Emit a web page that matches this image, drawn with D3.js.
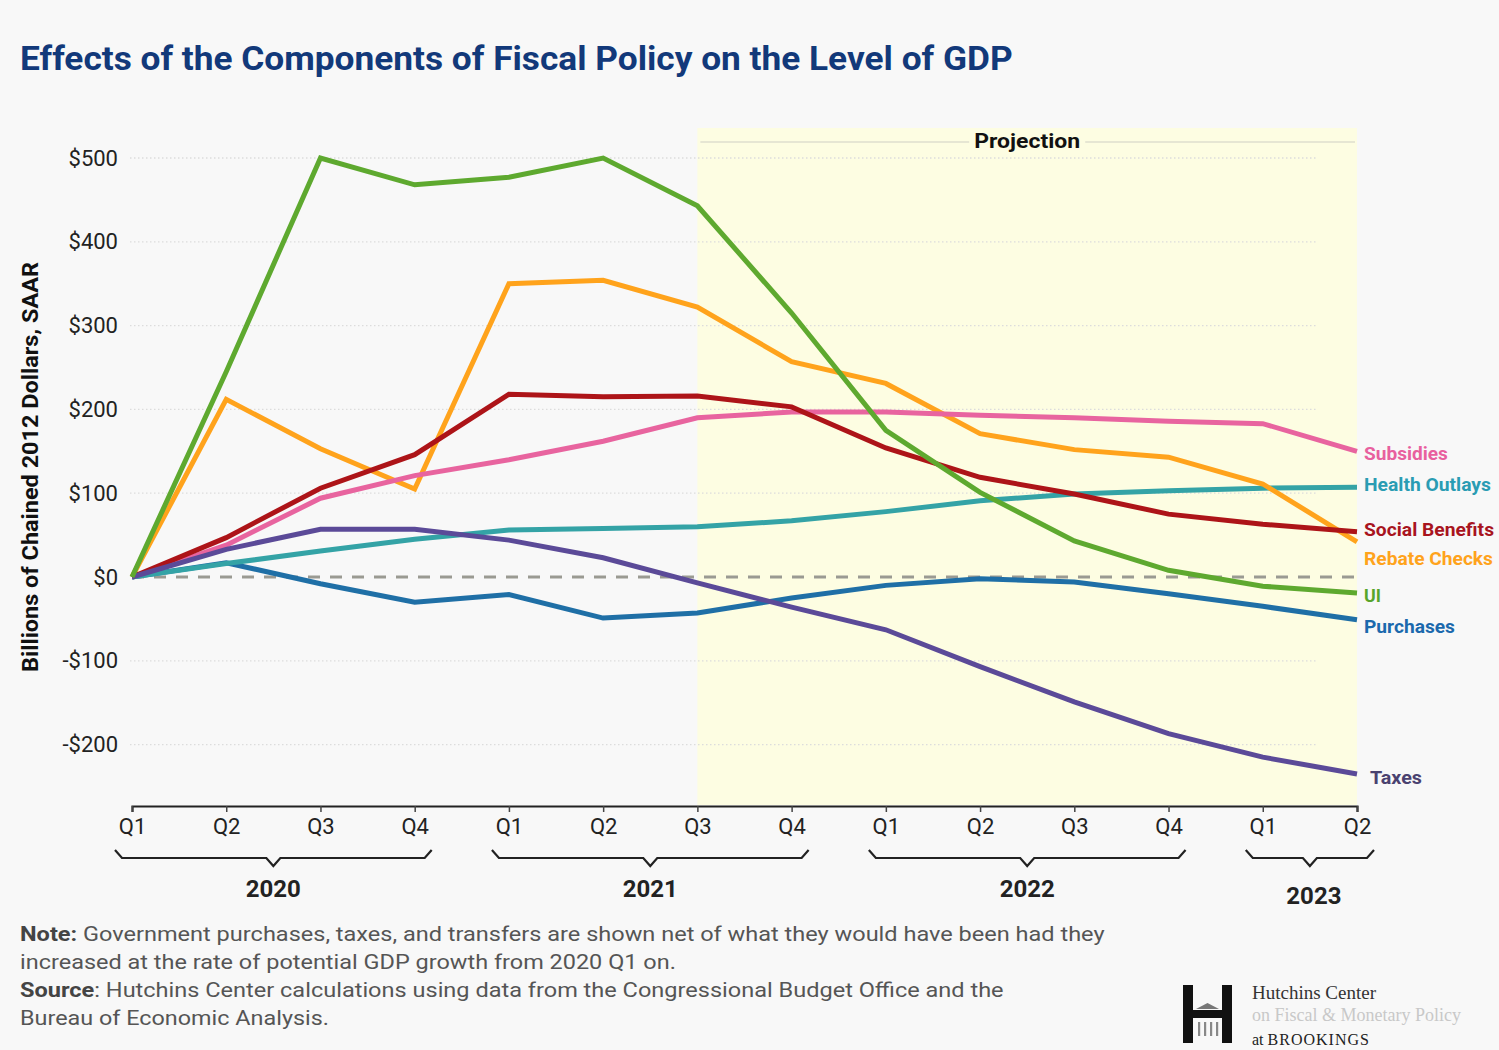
<!DOCTYPE html>
<html>
<head>
<meta charset="utf-8">
<script src="https://cdn.jsdelivr.net/npm/d3@7"></script>
<style>
  html, body { margin: 0; padding: 0; background: #f8f8f8; }
  svg { display: block; font-family: Roboto, "Noto Sans", sans-serif; }
</style>
</head>
<body>
<svg id="chart" width="1499" height="1050"></svg>
<script>
// Quarter ticks, 2020 Q1 through 2023 Q2
const quarterLabels = ["Q1","Q2","Q3","Q4","Q1","Q2","Q3","Q4","Q1","Q2","Q3","Q4","Q1","Q2"];
const yearLabels = ["2020", "2021", "2022", "2023"];
const yearFirstQuarter = [0, 4, 8, 12];
const yearLastQuarter = [3, 7, 11, 13];
const projectionFrom = 6; // 2021 Q3 onward is projected

const yTicks = [-200, -100, 0, 100, 200, 300, 400, 500];

// Effect on the level of GDP, billions of chained 2012 dollars (SAAR)
const uiValues        = [0, 245, 500, 468, 477, 500, 443, 315, 175, 101, 43, 8, -11, -19];
const rebateValues    = [0, 212, 153, 105, 350, 354, 322, 257, 231, 171, 152, 143, 111, 42];
const socialValues    = [0, 47, 106, 146, 218, 215, 216, 203, 154, 119, 99, 75, 63, 54];
const subsidyValues   = [0, 38, 94, 121, 140, 162, 190, 197, 197, 193, 190, 186, 183, 150];
const healthValues    = [0, 16, 31, 45, 56, 58, 60, 67, 78, 91, 99, 103, 106, 107];
const taxValues       = [0, 33, 57, 57, 44, 23, -7, -36, -63, -107, -149, -187, -215, -235];
const purchaseValues  = [0, 17, -8, -30, -21, -49, -43, -25, -10, -2, -6, -20, -35, -51];

const seriesNames = ["Purchases", "Health Outlays", "Rebate Checks", "Subsidies", "Social Benefits", "Taxes", "UI"];
const seriesValues = [purchaseValues, healthValues, rebateValues, subsidyValues, socialValues, taxValues, uiValues];

// Styling for each series: line colour, label colour, label nudge in px
const style = {
  "UI":              { line: "#5ea92f", text: "#58a52b", dy: 2,   dx: 7 },
  "Rebate Checks":   { line: "#ffa31c", text: "#ffa31c", dy: 16,  dx: 7 },
  "Social Benefits": { line: "#ad1418", text: "#a8141e", dy: -3,  dx: 7 },
  "Subsidies":       { line: "#e8649f", text: "#e8609e", dy: 2,   dx: 7 },
  "Health Outlays":  { line: "#34a3a6", text: "#2a9cb3", dy: -3,  dx: 7 },
  "Taxes":           { line: "#5b4a98", text: "#4a4270", dy: 3,   dx: 13 },
  "Purchases":       { line: "#1f6fa6", text: "#1b69ad", dy: 6,   dx: 7 }
};
const labelWidths = { "Subsidies": 84, "Health Outlays": 127, "Social Benefits": 130,
  "Rebate Checks": 129, "UI": 17, "Purchases": 91, "Taxes": 52 };

const svg = d3.select("#chart");

const x = d3.scaleLinear().domain([0, quarterLabels.length - 1]).range([132, 1357]);
const y = d3.scaleLinear().domain([-200, 500]).range([744.6, 158]);

// Horizontally squeeze a text element so that it spans a given width
function fitWidth(sel, width, anchorX, baseY, anchor) {
  const node = sel.node();
  const w = node.getComputedTextLength();
  const k = width / w;
  let tx = anchorX;
  sel.attr("x", 0).attr("y", 0);
  if (anchor === "middle") sel.attr("text-anchor", "middle");
  if (anchor === "end") sel.attr("text-anchor", "end");
  sel.attr("transform", `translate(${tx},${baseY}) scale(${k},1)`);
}

// Title
const title = svg.append("text")
  .attr("fill", "#12397a").attr("font-weight", 700).attr("font-size", 34)
  .text("Effects of the Components of Fiscal Policy on the Level of GDP");
fitWidth(title, 993, 20, 70);

// Projection shading
svg.append("rect")
  .attr("x", x(projectionFrom)).attr("y", 128)
  .attr("width", x(quarterLabels.length - 1) - x(projectionFrom))
  .attr("height", 805 - 128)
  .attr("fill", "#fdfde2");

// Projection label with rule
const projCenter = (x(projectionFrom) + x(quarterLabels.length - 1)) / 2;
svg.append("line").attr("x1", x(projectionFrom) + 3).attr("x2", projCenter - 58)
  .attr("y1", 142).attr("y2", 142).attr("stroke", "#cfcfc4").attr("stroke-width", 1.2);
svg.append("line").attr("x1", projCenter + 58).attr("x2", x(quarterLabels.length - 1) - 2)
  .attr("y1", 142).attr("y2", 142).attr("stroke", "#cfcfc4").attr("stroke-width", 1.2);
const proj = svg.append("text").attr("font-weight", 700).attr("font-size", 21).attr("fill", "#111")
  .text("Projection");
fitWidth(proj, 106, projCenter, 148, "middle");

// Gridlines
svg.append("g").selectAll("line")
  .data(yTicks.filter(d => d !== 0))
  .join("line")
  .attr("x1", 130).attr("x2", x(quarterLabels.length - 1) - 40)
  .attr("y1", d => y(d)).attr("y2", d => y(d))
  .attr("stroke", "#dcdcdc").attr("stroke-width", 1.3)
  .attr("stroke-dasharray", "1.5,2.5");

// Zero line
svg.append("line")
  .attr("x1", x(0)).attr("x2", x(quarterLabels.length - 1))
  .attr("y1", y(0)).attr("y2", y(0))
  .attr("stroke", "#9a9a92").attr("stroke-width", 3)
  .attr("stroke-dasharray", "12,10");

// Y axis labels
const yAxis = svg.append("g").attr("transform", "translate(118,0)")
  .call(d3.axisLeft(y).tickValues(yTicks).tickSize(0).tickPadding(0)
    .tickFormat(d => (d < 0 ? "-$" : "$") + Math.abs(d)));
yAxis.select(".domain").remove();
yAxis.selectAll("text").attr("font-size", 22).attr("fill", "#222")
  .attr("font-family", "Roboto, sans-serif");

// Y axis title
const yTitle = svg.append("text").attr("font-weight", 700).attr("font-size", 22).attr("fill", "#111")
  .text("Billions of Chained 2012 Dollars, SAAR");
{
  const w = yTitle.node().getComputedTextLength();
  const k = 410 / w;
  yTitle.attr("text-anchor", "middle")
    .attr("transform", `translate(38,467) rotate(-90) scale(${k},1)`);
}

// Lines
const line = d3.line().x((d, i) => x(i)).y(d => y(d));
svg.append("g").selectAll("path")
  .data(seriesNames)
  .join("path")
  .attr("d", (name, i) => line(seriesValues[i]))
  .attr("fill", "none")
  .attr("stroke", name => style[name].line)
  .attr("stroke-width", 5)
  .attr("stroke-linejoin", "miter")
  .attr("stroke-linecap", "butt");

// End labels
seriesNames.forEach((name, i) => {
  const vals = seriesValues[i];
  const last = vals[vals.length - 1];
  const t = svg.append("text").attr("font-weight", 700).attr("font-size", 19)
    .attr("fill", style[name].text).text(name);
  fitWidth(t, labelWidths[name], x(vals.length - 1) + style[name].dx, y(last) + style[name].dy + 7);
});

// X axis
const xAxis = svg.append("g").attr("transform", "translate(0,806)")
  .call(d3.axisBottom(x).tickValues(d3.range(quarterLabels.length))
    .tickSize(6).tickPadding(6).tickFormat(i => quarterLabels[i]));
xAxis.select(".domain").attr("stroke", "#222").attr("stroke-width", 2.2);
xAxis.selectAll(".tick line").attr("stroke", "#444").attr("stroke-width", 1.5);
xAxis.selectAll("text").attr("font-size", 22).attr("fill", "#222")
  .attr("font-family", "Roboto, sans-serif");

// Year braces and labels
yearLabels.forEach((label, i) => {
  const x0 = x(yearFirstQuarter[i]) - 17;
  const x1 = x(yearLastQuarter[i]) + 17;
  const cx = (x0 + x1) / 2;
  const top = 850, mid = 858, tip = 866;
  svg.append("path")
    .attr("d", `M${x0},${top} L${x0 + 7},${mid} L${cx - 7},${mid} L${cx},${tip} L${cx + 7},${mid} L${x1 - 7},${mid} L${x1},${top}`)
    .attr("fill", "none").attr("stroke", "#222").attr("stroke-width", 2.2);
  svg.append("text")
    .attr("x", cx + (i === 3 ? 4 : 0)).attr("y", i === 3 ? 904 : 897)
    .attr("text-anchor", "middle").attr("font-weight", 700).attr("font-size", 24)
    .attr("fill", "#222").text(label);
});

// Notes
const noteLines = [
  { bold: "Note:", rest: " Government purchases, taxes, and transfers are shown net of what they would have been had they", width: 1085 },
  { bold: "", rest: "increased at the rate of potential GDP growth from 2020 Q1 on.", width: 656 },
  { bold: "Source", rest: ": Hutchins Center calculations using data from the Congressional Budget Office and the", width: 984 },
  { bold: "", rest: "Bureau of Economic Analysis.", width: 309 }
];
noteLines.forEach((ln, i) => {
  const t = svg.append("text").attr("font-size", 21).attr("fill", "#555");
  if (ln.bold) t.append("tspan").attr("font-weight", 700).attr("fill", "#444").text(ln.bold);
  t.append("tspan").text(ln.rest);
  fitWidth(t, ln.width, 20, 941 + i * 28);
});

// Hutchins Center mark
const logo = svg.append("g").attr("fill", "#111");
logo.append("rect").attr("x", 1183).attr("y", 985).attr("width", 10).attr("height", 58);
logo.append("rect").attr("x", 1222).attr("y", 985).attr("width", 10).attr("height", 58);
logo.append("rect").attr("x", 1193).attr("y", 1010).attr("width", 29).attr("height", 8);
logo.append("path").attr("d", "M1196,1009 L1207.5,1003 L1219,1009 Z").attr("fill", "#777");
[1199, 1205, 1211, 1217].forEach(cx =>
  logo.append("rect").attr("x", cx - 1).attr("y", 1022).attr("width", 2.2).attr("height", 14).attr("fill", "#888"));
svg.append("text").attr("x", 1252).attr("y", 999)
  .attr("font-family", "'Liberation Serif', 'DejaVu Serif', serif").attr("font-size", 19)
  .attr("fill", "#333").text("Hutchins Center");
svg.append("text").attr("x", 1252).attr("y", 1021)
  .attr("font-family", "'Liberation Serif', 'DejaVu Serif', serif").attr("font-size", 18)
  .attr("fill", "#c8c8c8").text("on Fiscal & Monetary Policy");
const brook = svg.append("text").attr("x", 1252).attr("y", 1045)
  .attr("font-family", "'Liberation Serif', 'DejaVu Serif', serif").attr("font-size", 16)
  .attr("fill", "#222");
brook.append("tspan").text("at ");
brook.append("tspan").attr("letter-spacing", 1).text("BROOKINGS");
</script>
</body>
</html>
